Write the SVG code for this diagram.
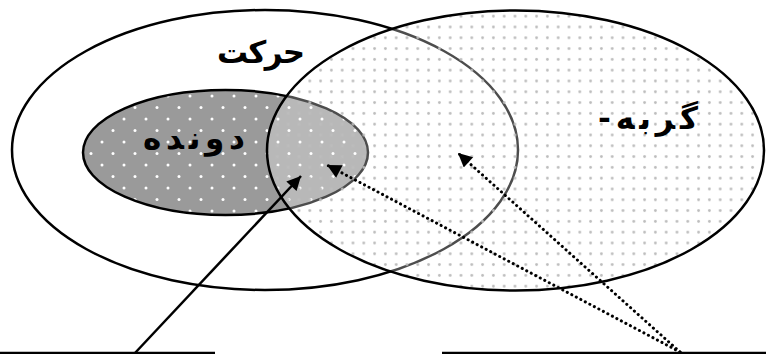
<svg xmlns="http://www.w3.org/2000/svg" width="766" height="354" viewBox="0 0 766 354">
<defs>
<pattern id="darkDots" width="22" height="23" patternUnits="userSpaceOnUse" x="3" y="4">
<rect width="22" height="23" fill="#9a9a9a"/>
<circle cx="11" cy="0" r="1.5" fill="#ffffff"/>
<circle cx="0" cy="11.5" r="1.5" fill="#ffffff"/>
<circle cx="22" cy="11.5" r="1.5" fill="#ffffff"/>
<circle cx="11" cy="23" r="1.5" fill="#ffffff"/>
</pattern>
<pattern id="lightDots" width="10.8" height="10.8" patternUnits="userSpaceOnUse" x="2" y="0">
<rect width="10.8" height="10.8" fill="#ffffff" fill-opacity="0.3"/>
<circle cx="5.4" cy="5.4" r="1.4" fill="#bcbcbc"/>
</pattern>
<marker id="arrow" viewBox="0 0 10 10" refX="10" refY="5" markerWidth="17" markerHeight="14" markerUnits="userSpaceOnUse" orient="auto">
<path d="M0,0 L10,5 L0,10 Z" fill="#000"/>
</marker>
</defs>
<style>
.outline{stroke:#000;stroke-width:2.5}
.label{font-family:"DejaVu Sans",sans-serif;font-size:31px;font-weight:bold;fill:#000;text-anchor:middle}
.solid{stroke:#000;stroke-width:2.5;fill:none}
.dotted{stroke:#000;stroke-width:3;fill:none;stroke-dasharray:0.1 5;stroke-linecap:round}
.base{stroke:#000;stroke-width:2.5}
</style>
<g id="movement">
<ellipse cx="265" cy="150" rx="253" ry="140" fill="#fff" class="outline"/>
<text x="261" y="63" class="label" direction="rtl" textLength="88" lengthAdjust="spacing">حركت</text>
</g>
<g id="runner">
<ellipse cx="225.5" cy="152.5" rx="142.5" ry="62.5" fill="url(#darkDots)" class="outline"/>
<text x="194" y="149" class="label" direction="rtl" textLength="102" lengthAdjust="spacing">دونده</text>
</g>
<g id="cat">
<ellipse cx="515.5" cy="150.5" rx="248.5" ry="140" fill="url(#lightDots)" class="outline"/>
<text x="648" y="129" class="label" direction="rtl" textLength="100" lengthAdjust="spacing">گربه-</text>
</g>
<g id="connectors">
<line x1="0" y1="353" x2="215" y2="353" class="base"/>
<line x1="442" y1="353" x2="766" y2="353" class="base"/>
<line x1="135" y1="353" x2="301" y2="176" class="solid" marker-end="url(#arrow)"/>
<line x1="680" y1="352" x2="327" y2="165" class="dotted" marker-end="url(#arrow)"/>
<line x1="680" y1="352" x2="458" y2="153" class="dotted" marker-end="url(#arrow)"/>
</g>
</svg>
